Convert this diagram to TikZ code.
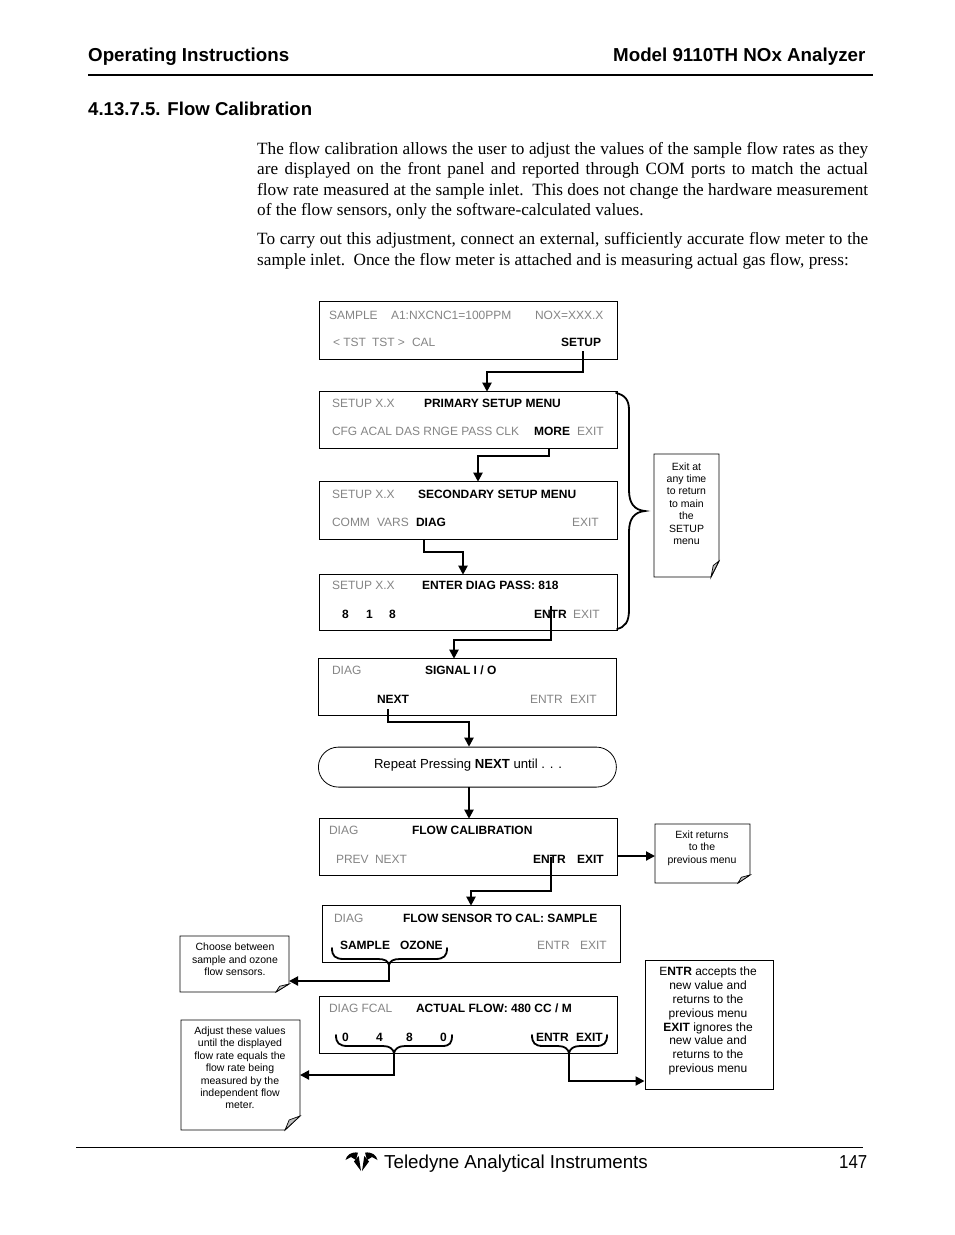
\documentclass[tikz,border=0pt]{standalone}
\usepackage{fontspec}
\setmainfont{Liberation Sans}
\newfontfamily\serifbody{Liberation Serif}
\usetikzlibrary{arrows.meta,calc}
\definecolor{dimtext}{HTML}{858585}
\tikzset{
 lbl/.style={anchor=base west,inner sep=0pt,outer sep=0pt,font=\fontsize{12}{14}\selectfont},
 dim/.style={lbl,text=dimtext},
 key/.style={lbl,font=\fontsize{12}{14}\selectfont\bfseries,text=black},
 menubox/.style={draw=black,line width=1pt,inner sep=0pt,outer sep=0pt,anchor=north west},
 conn/.style={draw=black,line width=2pt,-{Triangle[length=9pt,width=9pt]}},
 brace/.style={draw=black,line width=1.8pt,line cap=round},
 notebody/.style={inner sep=0pt,outer sep=0pt,anchor=north west},
 notetext/.style={inner sep=0pt,align=center,font=\fontsize{10.5}{12.4}\selectfont},
 head/.style={anchor=base west,inner sep=0pt,font=\fontsize{18.75}{22}\selectfont\bfseries},
 bodyline/.style={anchor=base west,inner sep=0pt,font=\serifbody\fontsize{17.2}{20}\selectfont},
 foot/.style={anchor=base west,inner sep=0pt,font=\fontsize{18.75}{22}\selectfont},
}
\newcommand{\menubx}[5]{\node[menubox,minimum width=#4pt,minimum height=#5pt] (#1) at (#2,#3) {};}
% name, x, y, width, height, fold dx, fold dy
\newcommand{\notebx}[7]{\node[notebody,minimum width=#4pt,minimum height=#5pt] (#1) at (#2,#3) {};
 \draw[line width=.9pt,line join=miter] (#1.north west) -- (#1.north east) -- ($(#1.south east)+(0,-#7)$) -- ($(#1.south east)+(-#6,0)$) -- (#1.south west) -- cycle;
 \draw[line width=.7pt,fill=black!25] ($(#1.south east)+(0,-#7)$) -- ($(#1.south east)+(-#6*0.72,-#7*0.72)$) -- ($(#1.south east)+(-#6,0)$) -- cycle;}
\begin{document}
\begin{tikzpicture}[x=1pt,y=-1pt]
\useasboundingbox (0,0) rectangle (954,1235);
\fill[white] (0,0) rectangle (954,1235);
% header
\node[head] (h1) at (88,61) {Operating Instructions};
\node[head] (h2) at (613,61) {Model 9110TH NOx Analyzer};
\draw[line width=1.5pt] (88,75) -- (873,75);
\node[head,font=\fontsize{18.6}{22}\selectfont\bfseries] (h3) at (88,115) {4.13.7.5. Flow Calibration};
% body
\node[bodyline] (p1) at (257,154) {\makebox[611pt][s]{The flow calibration allows the user to adjust the values of the sample flow rates as they}};
\node[bodyline] (p2) at (257,174) {\makebox[611pt][s]{are displayed on the front panel and reported through COM ports to match the actual}};
\node[bodyline] (p3) at (257,195) {\makebox[611pt][s]{flow rate measured at the sample inlet.\ \ This does not change the hardware measurement}};
\node[bodyline] (p4) at (257,215) {of the flow sensors, only the software-calculated values.};
\node[bodyline] (p5) at (257,244) {\makebox[611pt][s]{To carry out this adjustment, connect an external, sufficiently accurate flow meter to the}};
\node[bodyline] (p6) at (257,265) {sample inlet.\ \ Once the flow meter is attached and is measuring actual gas flow, press:};
% menu boxes
\menubx{b1}{319}{301.7}{298}{58}
\menubx{b2}{319}{391.7}{298}{57}
\menubx{b3}{319}{481.7}{298}{58}
\menubx{b4}{319}{574.7}{298}{56}
\menubx{b5}{318}{658.7}{298}{57}
\node[draw=black,line width=.8pt,rounded corners=20pt,minimum width=298pt,minimum height=40pt,inner sep=0pt,anchor=north west] (b6) at (318,746.7) {};
\menubx{b7}{319}{818.7}{298}{57}
\menubx{b8}{322}{905.7}{298}{57}
\menubx{b9}{319}{996.7}{298}{57}
% b1
\node[dim] (t1a) at (329,319) {SAMPLE};
\node[dim] (t1b) at (391,319) {A1:NXCNC1=100PPM};
\node[dim] (t1c) at (535,319) {NOX=XXX.X};
\node[dim] (t1d) at (333,346) {< TST};
\node[dim] (t1e) at (372,346) {TST >};
\node[dim] (t1f) at (412,346) {CAL};
\node[key] (t1g) at (561,346) {SETUP};
% b2
\node[dim] (t2a) at (332,407) {SETUP X.X};
\node[key] (t2b) at (424,407) {PRIMARY SETUP MENU};
\node[dim] (t2c) at (332,435) {CFG ACAL DAS RNGE PASS CLK};
\node[key] (t2d) at (534,435) {MORE};
\node[dim] (t2e) at (577,435) {EXIT};
% b3
\node[dim] (t3a) at (332,498) {SETUP X.X};
\node[key] (t3b) at (418,498) {SECONDARY SETUP MENU};
\node[dim] (t3c) at (332,526) {COMM};
\node[dim] (t3d) at (377,526) {VARS};
\node[key] (t3e) at (416,526) {DIAG};
\node[dim] (t3f) at (572,526) {EXIT};
% b4
\node[dim] (t4a) at (332,589) {SETUP X.X};
\node[key] (t4b) at (422,589) {ENTER DIAG PASS: 818};
\node[key] (t4c) at (342,618) {8};
\node[key] (t4d) at (366,618) {1};
\node[key] (t4e) at (389,618) {8};
\node[key] (t4f) at (534,618) {ENTR};
\node[dim] (t4g) at (573,618) {EXIT};
% b5
\node[dim] (t5a) at (332,674) {DIAG};
\node[key] (t5b) at (425,674) {SIGNAL I / O};
\node[key] (t5c) at (377,703) {NEXT};
\node[dim] (t5d) at (530,703) {ENTR};
\node[dim] (t5e) at (570,703) {EXIT};
% b6
\node[lbl,font=\fontsize{13.15}{15}\selectfont] (t6) at (374,768) {Repeat Pressing \textbf{NEXT} until . . .};
% b7
\node[dim] (t7a) at (329,834) {DIAG};
\node[key] (t7b) at (412,834) {FLOW CALIBRATION};
\node[dim] (t7c) at (336,863) {PREV};
\node[dim] (t7d) at (375,863) {NEXT};
\node[key] (t7e) at (533,863) {ENTR};
\node[key] (t7f) at (577,863) {EXIT};
% b8
\node[dim] (t8a) at (334,922) {DIAG};
\node[key] (t8b) at (403,922) {FLOW SENSOR TO CAL: SAMPLE};
\node[key] (t8c) at (340,949) {SAMPLE};
\node[key] (t8d) at (400,949) {OZONE};
\node[dim] (t8e) at (537,949) {ENTR};
\node[dim] (t8f) at (580,949) {EXIT};
% b9
\node[dim] (t9a) at (329,1012) {DIAG FCAL};
\node[key] (t9b) at (416,1012) {ACTUAL FLOW: 480 CC / M};
\node[key] (t9c) at (342,1041) {0};
\node[key] (t9d) at (376,1041) {4};
\node[key] (t9e) at (406,1041) {8};
\node[key] (t9f) at (440,1041) {0};
\node[key] (t9g) at (536,1041) {ENTR};
\node[key] (t9h) at (576,1041) {EXIT};
% notes
\notebx{n1}{654}{454}{65}{123}{8}{16}
\node[notetext] (n1t) at (686.5,503.5) {Exit at\\any time\\to return\\to main\\the\\SETUP\\menu};
\notebx{n2}{655}{824}{95}{59}{12}{8}
\node[notetext] (n2t) at (702,848) {Exit returns\\to the\\previous menu};
\notebx{n3}{180}{936}{109}{56}{13}{8}
\node[notetext] (n3t) at (235,959.5) {Choose between\\sample and ozone\\flow sensors.};
\notebx{n4}{181}{1020}{119}{110}{15}{14}
\node[notetext] (n4t) at (240,1068) {Adjust these values\\until the displayed\\flow rate equals the\\flow rate being\\measured by the\\independent flow\\meter.};
\node[draw=black,line width=1.3pt,minimum width=128pt,minimum height=129pt,inner sep=0pt,anchor=north west] (n5) at (644.5,959.5) {};
\node[inner sep=0pt,align=center,font=\fontsize{12}{13.9}\selectfont] (n5t) at (708,1021) {E\textbf{NTR} accepts the\\new value and\\returns to the\\previous menu\\\textbf{EXIT} ignores the\\new value and\\returns to the\\previous menu};
% connectors
\coordinate (c1a) at (583,351); \coordinate (c1b) at (487,372);
\draw[conn] (c1a) |- (c1b) -- (c1b |- b2.north);
\coordinate (c2a) at (549,449); \coordinate (c2b) at (478,456);
\draw[conn] (c2a) |- (c2b) -- (c2b |- b3.north);
\coordinate (c3a) at (424,540); \coordinate (c3b) at (463,552);
\draw[conn] (c3a) |- (c3b) -- (c3b |- b4.north);
\coordinate (c4a) at (551,606); \coordinate (c4b) at (454,640);
\draw[conn] (c4a) |- (c4b) -- (c4b |- b5.north);
\coordinate (c5a) at (388,709); \coordinate (c5b) at (469,722);
\draw[conn] (c5a) |- (c5b) -- (c5b |- b6.north);
\coordinate (c6a) at (469,787);
\draw[conn] (c6a) -- (c6a |- b7.north);
\coordinate (c7a) at (617,856);
\draw[conn] (c7a) -- (c7a -| n2.west);
\coordinate (c8a) at (551,857); \coordinate (c8b) at (471,891);
\draw[conn] (c8a) |- (c8b) -- (c8b |- b8.north);
% braces
\draw[brace] (332,948) .. controls (332,956) and (335,959) .. (344,959) -- (378,959) .. controls (385,959) and (388,961) .. (389,965) .. controls (390,961) and (393,959) .. (400,959) -- (435,959) .. controls (444,959) and (447,956) .. (447,948);
\coordinate (c9a) at (389,965); \coordinate (c9b) at (389,981);
\draw[conn] (c9a) -- (c9b) -- (c9b -| n3.east);
\draw[brace] (336,1035) .. controls (336,1043) and (339,1046) .. (348,1046) -- (383,1046) .. controls (390,1046) and (393,1049) .. (394,1053) .. controls (395,1049) and (398,1046) .. (405,1046) -- (442,1046) .. controls (450,1046) and (452,1043) .. (452,1035);
\coordinate (c10a) at (394,1053); \coordinate (c10b) at (394,1075);
\draw[conn] (c10a) -- (c10b) -- (c10b -| n4.east);
\draw[brace] (532,1035) .. controls (532,1043) and (535,1046) .. (543,1046) -- (558,1046) .. controls (565,1046) and (568,1049) .. (569,1053) .. controls (570,1049) and (573,1046) .. (580,1046) -- (596,1046) .. controls (604,1046) and (607,1043) .. (607,1035);
\coordinate (c11a) at (569,1053); \coordinate (c11b) at (569,1081);
\draw[conn] (c11a) -- (c11b) -- (c11b -| n5.west);
% big brace
\draw[brace] (616,393) .. controls (625,395) and (629,400) .. (629,410) -- (629,490) .. controls (629,503) and (634,510) .. (645,511) .. controls (634,512) and (629,519) .. (629,532) -- (629,610) .. controls (629,622) and (625,627) .. (617,629);
% footer
\draw[line width=1pt] (76,1147) -- (863,1147);
\node[foot] (f1) at (384,1168) {Teledyne Analytical Instruments};
\node[foot] (f2) at (839,1168) {\scalebox{0.9}[1]{147}};
% logo
\fill (345.5,1160) .. controls (347,1155) and (350,1152) .. (358,1152.5) -- (356,1160) -- (351,1157) -- cycle;
\fill (377.5,1160) .. controls (376,1155) and (373,1152) .. (365,1152.5) -- (367,1160) -- (372,1157) -- cycle;
\fill (358.7,1156) -- (361,1171) -- (354,1161.5) -- cycle;
\fill (364.3,1156) -- (362,1171) -- (369,1161.5) -- cycle;
\end{tikzpicture}
\end{document}
